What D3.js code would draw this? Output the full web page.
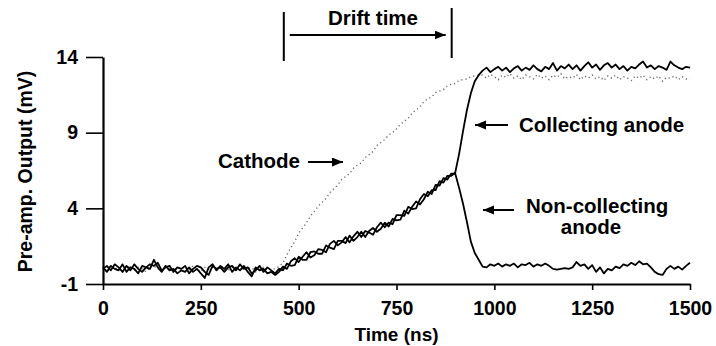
<!DOCTYPE html>
<html>
<head>
<meta charset="utf-8">
<script src="https://cdn.jsdelivr.net/npm/d3@7"></script>
<style>
  body { margin: 0; background: #fff; }
  svg text { font-family: "Liberation Sans", Arial, Helvetica, sans-serif; font-weight: bold; }
</style>
</head>
<body>
<div id="chart"></div>
<script>
// sample times (ns), one reading every 10 ns
const timeStart = 0, timeStep = 10;

// collecting anode (mV)
const collecting = [
  0.1, -0.2, 0.2, 0.0, -0.1, 0.3, -0.2, 0.1, 0.0, -0.3,
  0.2, 0.1, 0.0, 0.6, 0.1, -0.2, 0.2, -0.1, 0.0, -0.3,
  -0.1, -0.2, 0.1, -0.2, 0.0, -0.3, -0.6, 0.1, 0.3, -0.1,
  0.2, 0.0, 0.3, -0.2, 0.1, -0.1, 0.2, -0.2, -0.5, 0.1,
  -0.1, 0.0, -0.3, -0.2, -0.4, -0.2,
  0.15, 0.0, 0.5, 0.7, 0.45, 0.8, 1.1, 0.75, 0.9, 1.3,
  1.25, 1.1, 1.65, 1.85, 1.55, 1.75, 2.1, 1.75, 2.15, 2.45,
  2.1, 2.5, 2.4, 2.25, 2.75, 3.05, 2.75, 3.05, 2.95, 3.55,
  3.55, 3.5, 4.1, 3.95, 4.0, 4.6, 4.95, 4.8, 5.2, 5.2,
  5.8, 5.7, 6.15, 6.15,
  6.35, 7.6, 9.1, 10.5, 11.6, 12.4, 12.8,
  13.1, 13.3, 13.0, 13.2, 13.35, 13.1, 13.3, 13.0, 13.25, 13.4,
  13.1, 13.3, 13.15, 13.45, 13.2, 13.05, 13.35, 13.2, 13.6, 13.1,
  13.4, 13.25, 13.5, 13.2, 13.45, 13.1, 13.4, 13.65, 13.3, 13.5,
  13.15, 13.45, 13.6, 13.3, 13.5, 13.2, 13.4, 13.1, 13.35, 13.25,
  13.5, 13.7, 13.3, 13.45, 13.2, 13.4, 13.3, 13.15, 13.7, 13.45,
  13.3, 13.2, 13.35, 13.3
];

// non-collecting anode (mV)
const nonCollecting = [
  0.0, 0.2, -0.1, 0.3, 0.1, -0.2, 0.2, -0.1, 0.3, 0.0,
  -0.2, 0.1, 0.3, 0.2, 0.4, -0.1, 0.1, 0.2, -0.2, 0.1,
  0.0, 0.2, -0.3, 0.0, 0.2, 0.1, -0.2, -0.4, 0.2, 0.0,
  0.1, -0.2, 0.1, 0.2, -0.1, 0.3, 0.0, 0.1, -0.3, -0.1,
  0.2, -0.2, 0.1, -0.1, -0.3, 0.0,
  -0.1, 0.35, 0.2, 0.25, 0.8, 0.6, 0.6, 1.1, 1.15, 1.0,
  1.0, 1.55, 1.4, 1.3, 1.85, 1.85, 1.7, 2.2, 1.85, 2.1,
  2.45, 2.1, 2.5, 2.7, 2.45, 2.65, 3.05, 2.8, 3.3, 3.2,
  3.25, 3.85, 3.65, 4.1, 4.45, 4.25, 4.6, 5.1, 4.95, 5.55,
  5.5, 6.0, 5.9, 6.3,
  6.3, 5.35, 4.3, 3.1, 1.8, 1.05, 0.6, 0.15,
  0.1, 0.3, 0.2, 0.35, 0.15, 0.3, 0.2, 0.35, 0.1, 0.3,
  0.25, 0.4, 0.15, 0.3, 0.2, 0.35, 0.2, 0.0, -0.05, 0.0,
  0.05, 0.0, 0.1, 0.45, 0.2, 0.3, 0.0, 0.25, -0.2, 0.1,
  -0.3, 0.0, -0.1, 0.15, 0.05, 0.3, 0.2, 0.4, 0.25, 0.5,
  0.3, 0.35, 0.1, -0.2, -0.35, -0.4, 0.0, 0.2, 0.0, 0.15,
  -0.05, 0.2, 0.4
];

// cathode (mV)
const cathode = [
  0.1, -0.1, 0.2, 0.0, 0.1, -0.2, 0.0, 0.2, -0.1, 0.1,
  0.0, -0.2, 0.1, 0.2, 0.0, -0.1, 0.1, 0.0, -0.2, 0.1,
  0.0, 0.1, -0.1, 0.2, 0.0, -0.2, 0.1, 0.0, 0.1, -0.1,
  0.2, 0.0, -0.1, 0.1, 0.0, 0.2, -0.1, 0.0, 0.1, -0.2,
  0.0, 0.1, -0.1, 0.0, 0.0, 0.15,
  0.4, 0.95, 1.4, 1.8, 2.35, 2.7, 3.05, 3.5, 3.8, 4.15,
  4.4, 4.65, 5.05, 5.3, 5.55, 5.9, 6.1, 6.3, 6.65, 6.85,
  7.0, 7.35, 7.55, 7.75, 8.15, 8.35, 8.55, 8.85, 9.0, 9.25,
  9.55, 9.75, 9.95, 10.3, 10.5, 10.7, 11.05, 11.25, 11.35, 11.65,
  11.75, 11.85, 12.1, 12.2, 12.25, 12.45, 12.5, 12.55, 12.7, 12.75,
  12.8,
  12.8, 12.6, 12.85, 12.7, 12.5, 12.8, 12.65, 12.9, 12.6, 12.75,
  12.5, 12.8, 12.7, 12.55, 12.85, 12.6, 12.75, 12.5, 12.8, 12.65,
  12.9, 12.55, 12.7, 12.6, 12.85, 12.5, 12.75, 12.6, 12.8, 12.55,
  12.7, 12.45, 12.75, 12.6, 12.8, 12.5, 12.7, 12.6, 12.45, 12.75,
  12.6, 12.8, 12.5, 12.7, 12.55, 12.75, 12.4, 12.65, 12.6, 12.75,
  12.5, 12.7, 12.55, 12.6
];

const xTicks = [0, 250, 500, 750, 1000, 1250, 1500];
const yTicks = [-1, 4, 9, 14];
const driftStart = 462, driftEnd = 891;

const width = 716, height = 346;

const svg = d3.select("#chart")
    .append("svg")
    .attr("width", width)
    .attr("height", height);

const x = d3.scaleLinear()
    .domain([0, 1500])
    .range([103, 690]);

const y = d3.scaleLinear()
    .domain([-1, 14])
    .range([284, 57]);

const line = d3.line()
    .x((d, i) => x(timeStart + i * timeStep))
    .y(d => y(d));

svg.append("defs").append("marker")
    .attr("id", "head")
    .attr("markerUnits", "userSpaceOnUse")
    .attr("markerWidth", 12)
    .attr("markerHeight", 10)
    .attr("refX", 11)
    .attr("refY", 4.5)
    .attr("orient", "auto")
    .append("path")
    .attr("d", "M0,0 L11,4.5 L0,9 Z")
    .attr("fill", "#000");

// traces
svg.append("path")
    .datum(cathode)
    .attr("d", line)
    .attr("fill", "none")
    .attr("stroke", "#6a6a6a")
    .attr("stroke-width", 1.4)
    .attr("stroke-dasharray", "1.2 3");

svg.append("path")
    .datum(nonCollecting)
    .attr("d", line)
    .attr("fill", "none")
    .attr("stroke", "#000")
    .attr("stroke-width", 1.8)
    .attr("stroke-linejoin", "round");

svg.append("path")
    .datum(collecting)
    .attr("d", line)
    .attr("fill", "none")
    .attr("stroke", "#000")
    .attr("stroke-width", 1.8)
    .attr("stroke-linejoin", "round");

// axes
const xAxis = svg.append("g")
    .attr("transform", `translate(0,${y(-1)})`)
    .call(d3.axisBottom(x)
        .tickValues(xTicks)
        .tickSizeInner(6)
        .tickSizeOuter(0)
        .tickPadding(11)
        .tickFormat(d => String(d)));

const yAxis = svg.append("g")
    .attr("transform", `translate(${x(0)},0)`)
    .call(d3.axisLeft(y)
        .tickValues(yTicks)
        .tickSizeInner(17)
        .tickSizeOuter(0)
        .tickPadding(8)
        .tickFormat(d => String(d)));

[xAxis, yAxis].forEach(g => {
    g.select(".domain").attr("stroke-width", 2.2);
    g.selectAll(".tick line").attr("stroke-width", 1.6);
    g.selectAll("text")
        .style("font-size", "19.5px")
        .style("font-weight", "bold")
        .attr("fill", "#000");
});

svg.append("text")
    .attr("x", (x(0) + x(1500)) / 2)
    .attr("y", 341)
    .attr("text-anchor", "middle")
    .style("font-size", "19px")
    .text("Time (ns)");

svg.append("text")
    .attr("transform", `translate(32,${(y(-1) + y(14)) / 2 + 1}) rotate(-90)`)
    .attr("text-anchor", "middle")
    .style("font-size", "19.5px")
    .text("Pre-amp. Output (mV)");

// drift time annotation
svg.append("line")
    .attr("x1", x(driftStart)).attr("x2", x(driftStart))
    .attr("y1", 12).attr("y2", 61)
    .attr("stroke", "#000").attr("stroke-width", 2);

svg.append("line")
    .attr("x1", x(driftEnd)).attr("x2", x(driftEnd))
    .attr("y1", 8).attr("y2", 58)
    .attr("stroke", "#000").attr("stroke-width", 2);

svg.append("line")
    .attr("x1", x(driftStart) + 6).attr("x2", x(driftEnd) - 6)
    .attr("y1", 35).attr("y2", 35)
    .attr("stroke", "#000").attr("stroke-width", 2)
    .attr("marker-end", "url(#head)");

svg.append("text")
    .attr("x", 373)
    .attr("y", 25)
    .attr("text-anchor", "middle")
    .style("font-size", "20.5px")
    .text("Drift time");

// trace labels
const labels = [
    { text: "Cathode", x: 218, y: 168, anchor: "start" },
    { text: "Collecting anode", x: 519, y: 132, anchor: "start" },
    { text: "Non-collecting", x: 526, y: 213, anchor: "start" },
    { text: "anode", x: 591, y: 234, anchor: "middle" }
];

svg.selectAll(".lbl")
    .data(labels)
    .enter()
    .append("text")
    .attr("class", "lbl")
    .attr("x", d => d.x)
    .attr("y", d => d.y)
    .attr("text-anchor", d => d.anchor)
    .style("font-size", "20.5px")
    .text(d => d.text);

const arrows = [
    { x1: 308, x2: 343, y: 162 },
    { x1: 508, x2: 475, y: 125 },
    { x1: 514, x2: 483, y: 210 }
];

svg.selectAll(".arr")
    .data(arrows)
    .enter()
    .append("line")
    .attr("class", "arr")
    .attr("x1", d => d.x1)
    .attr("x2", d => d.x2)
    .attr("y1", d => d.y)
    .attr("y2", d => d.y)
    .attr("stroke", "#000")
    .attr("stroke-width", 2)
    .attr("marker-end", "url(#head)");
</script>
</body>
</html>
